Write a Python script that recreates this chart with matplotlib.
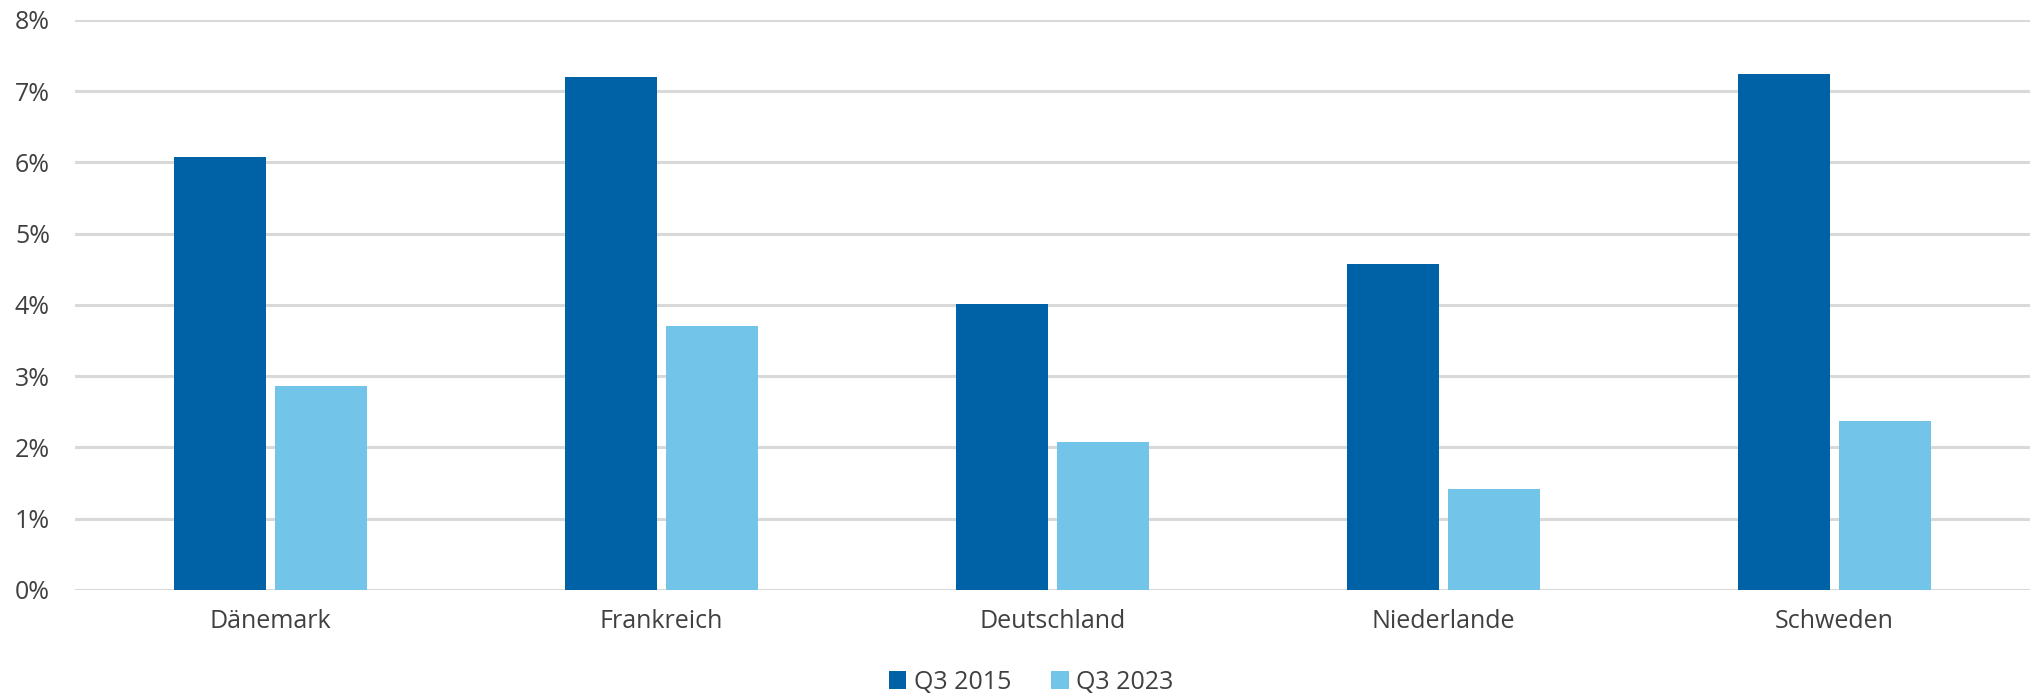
import numpy as np
import matplotlib.pyplot as plt
from matplotlib.ticker import FuncFormatter

plt.rcParams['font.family'] = ['Open Sans', 'DejaVu Sans']

# Daten
laender = ["Dänemark", "Frankreich", "Deutschland", "Niederlande", "Schweden"]
q3_2015 = [6.08, 7.20, 4.01, 4.58, 7.24]
q3_2023 = [2.86, 3.70, 2.08, 1.42, 2.37]

DUNKEL = "#0062A6"
HELL = "#72C5E8"
TEXT = "#404040"

fig = plt.figure(figsize=(20.38, 6.94), dpi=100)
ax = fig.add_axes([0.0368, 0.1499, 0.9593, 0.8213])

x = np.arange(len(laender))
breite = 0.235
abstand = 0.13
ax.bar(x - abstand, q3_2015, breite, color=DUNKEL, label="Q3 2015", zorder=3)
ax.bar(x + abstand, q3_2023, breite, color=HELL, label="Q3 2023", zorder=3)

ax.set_xlim(-0.5, len(laender) - 0.5)
ax.set_ylim(0, 8)
ax.set_yticks(np.arange(0, 9, 1))
ax.yaxis.set_major_formatter(FuncFormatter(lambda v, p: f"{v:.0f}%"))
ax.set_xticks(x)
ax.set_xticklabels(laender)

ax.grid(axis="y", color="#D9D9D9", linewidth=2.2, zorder=0)
for s in ax.spines.values():
    s.set_visible(False)
ax.tick_params(axis="both", length=0, labelsize=18, labelcolor=TEXT)
ax.tick_params(axis="y", pad=18)
ax.tick_params(axis="x", pad=14)

ax.legend(loc="center", bbox_to_anchor=(0.506, 0.017), bbox_transform=fig.transFigure,
          ncol=2, frameon=False, fontsize=18, labelcolor=TEXT,
          handlelength=0.7, handleheight=0.7, handletextpad=0.3, columnspacing=1.6)

plt.savefig("out.png", dpi=100)
